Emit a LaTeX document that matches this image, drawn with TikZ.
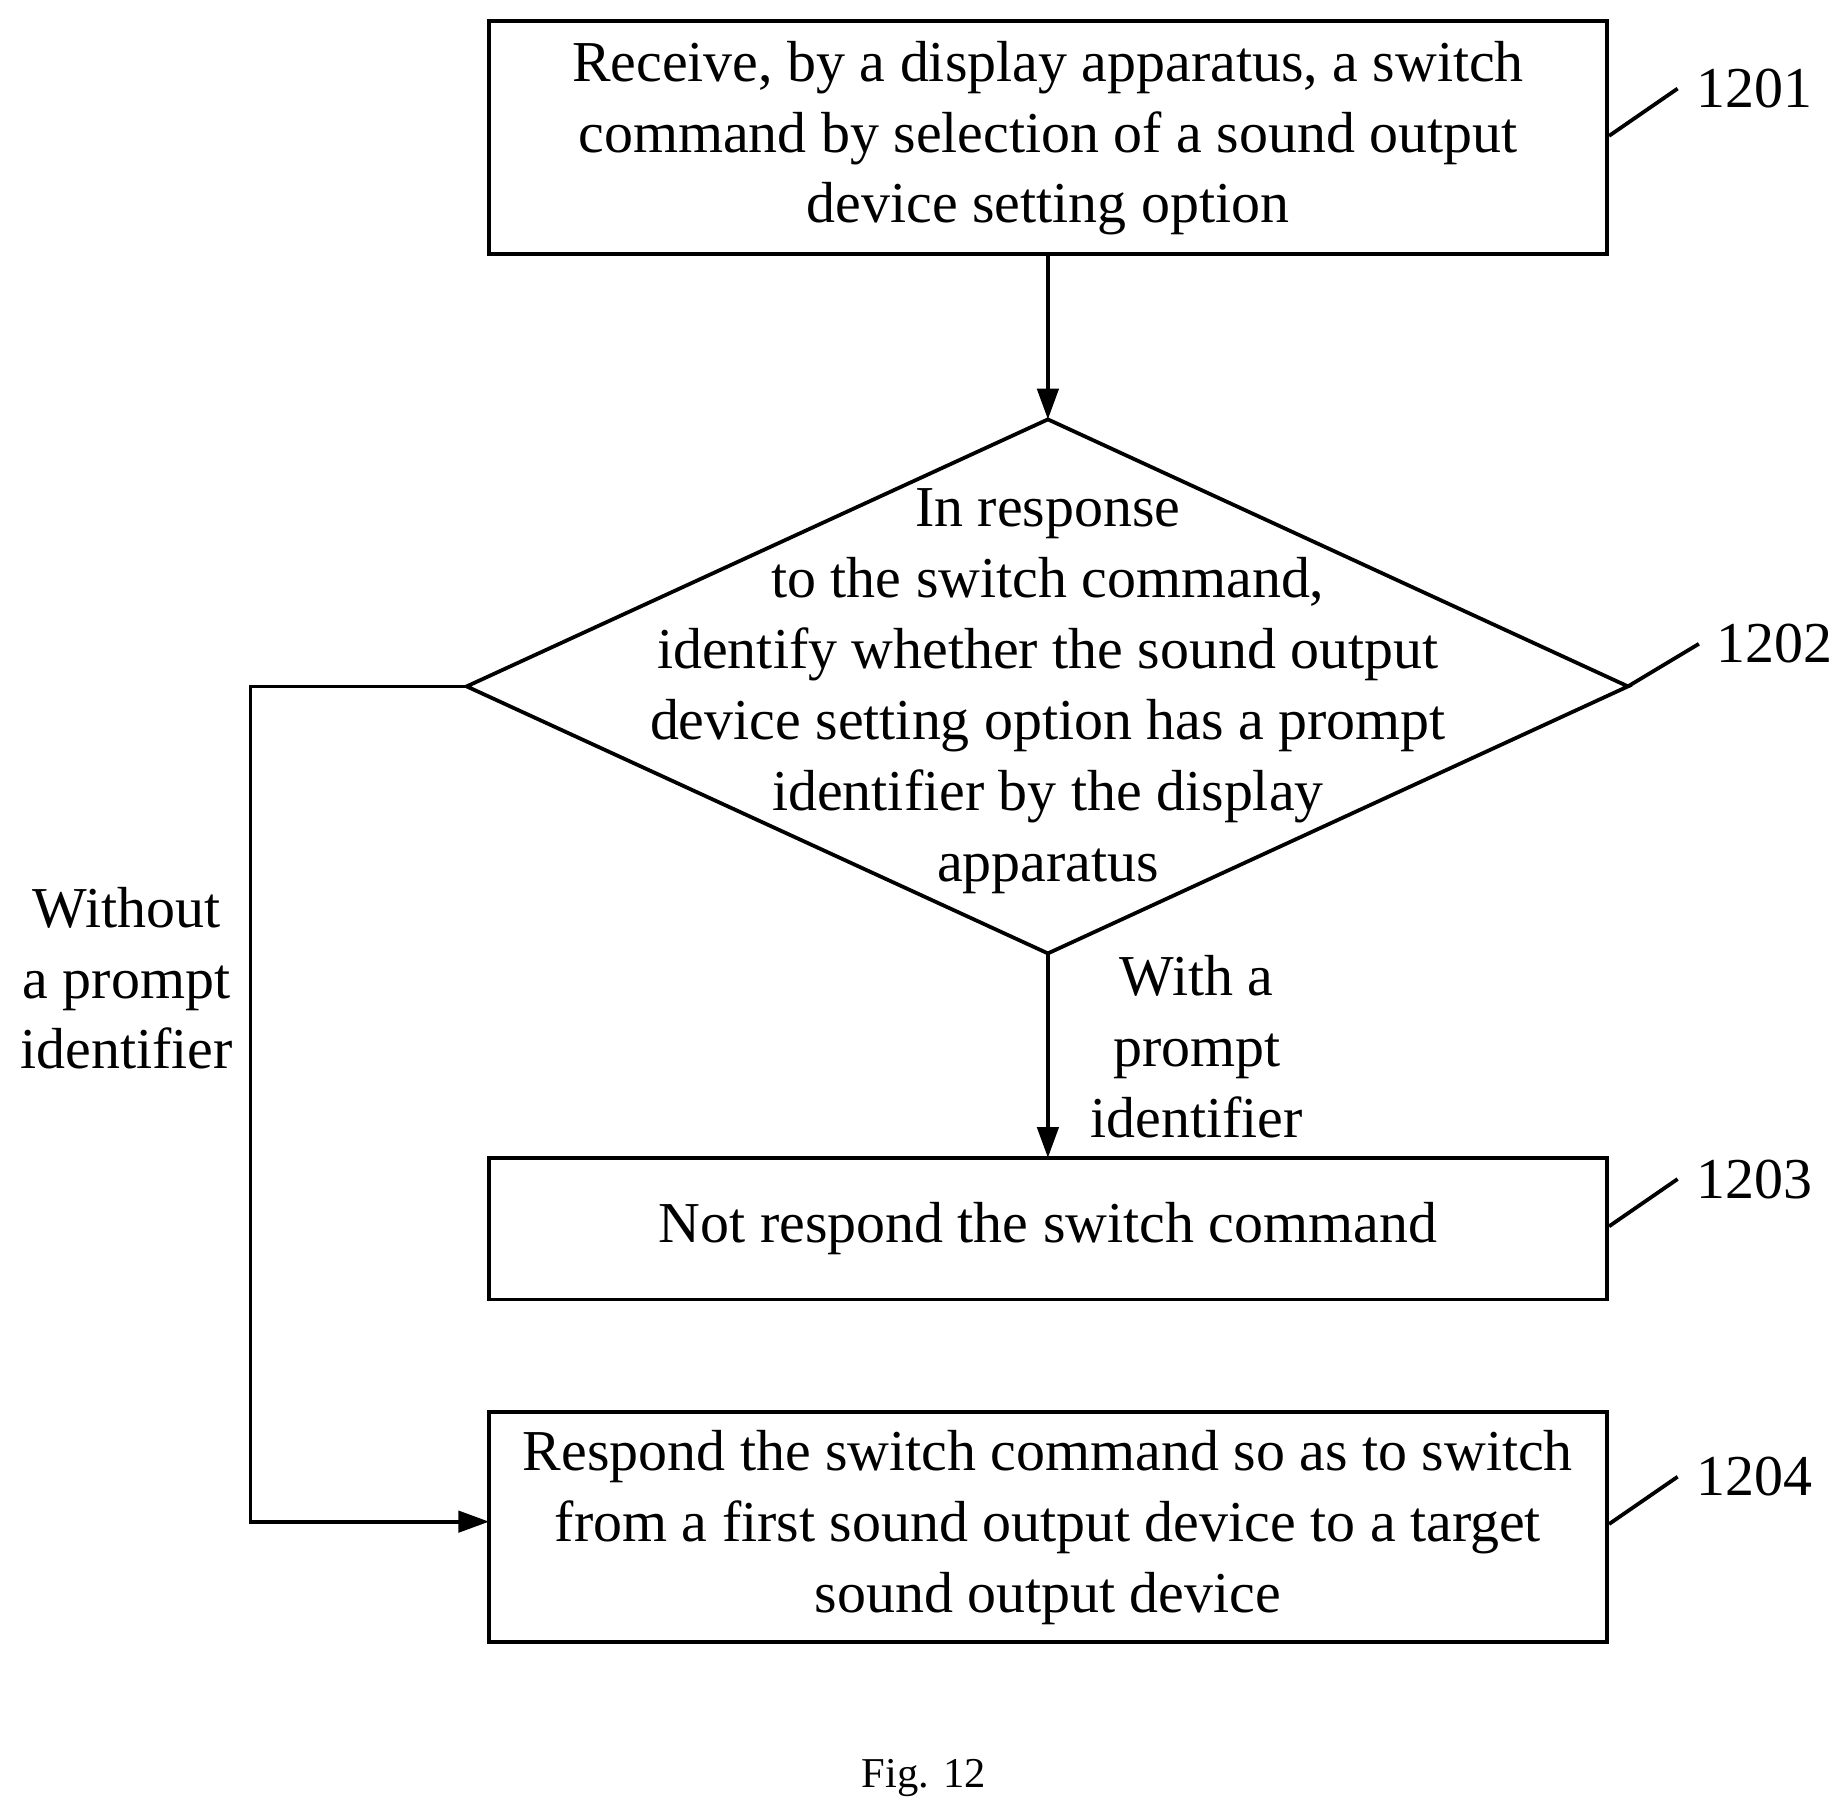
\documentclass[tikz,border=0pt]{standalone}
\usepackage{fontspec}
\setmainfont{Liberation Serif}
\usetikzlibrary{arrows.meta}
\begin{document}
\begin{tikzpicture}[x=0.5pt,y=-0.5pt,
  box/.style={draw,line width=1.6pt},
  txt/.style={align=center,font=\fontsize{24.5}{30}\selectfont},
  lbl/.style={font=\fontsize{24.5}{30}\selectfont},
  arr/.style={line width=1.6pt,-{Triangle[length=13pt,width=9pt]}},
  ln/.style={line width=1.6pt}]
\useasboundingbox (0,0) rectangle (1560,1540);
\fill[white] (0,0) rectangle (1560,1540);
% boxes
\draw[box] (414,18) rectangle (1360,215);
\node[txt] (t1) at (887,117) {Receive, by a display apparatus, a switch\\command by selection of a sound output\\device setting option};
\coordinate (b1) at (887,215);
\coordinate (dt) at (887,355);
\coordinate (dl) at (395,581);
\coordinate (dr) at (1378,581);
\coordinate (db) at (887,807);
\draw[box] (dt) -- (dr) -- (db) -- (dl) -- cycle;
\node[txt] (t2) at (887,585) {In response\\to the switch command,\\identify whether the sound output\\device setting option has a prompt\\identifier by the display\\apparatus};
\draw[box] (414,980) rectangle (1360,1100);
\node[txt] (t3) at (887,1040) {Not respond the switch command};
\coordinate (b3t) at (887,980);
\draw[box] (414,1195) rectangle (1360,1390);
\node[txt] (t4) at (887,1293) {Respond the switch command so as to switch\\from a first sound output device to a target\\sound output device};
\coordinate (b4l) at (414,1288);
% connectors
\draw[arr] (b1) -- (dt);
\draw[arr] (db) -- (b3t);
\draw[arr] (dl) -- (212,581) -- (212,1288) -- (b4l);
\node[txt] (w0) at (107,828) {Without\\a prompt\\identifier};
\node[txt] (w1) at (1013,886) {With a\\prompt\\identifier};
% step numbers
\draw[ln] (1362,115) -- (1420,75); \node[lbl] (n1) at (1485,75) {1201};
\draw[ln] (1378,581) -- (1438,545); \node[lbl] (n2) at (1502,545) {1202};
\draw[ln] (1362,1038) -- (1420,998); \node[lbl] (n3) at (1485,998) {1203};
\draw[ln] (1362,1290) -- (1420,1250); \node[lbl] (n4) at (1485,1250) {1204};
\node[font=\fontsize{18}{22}\selectfont] (fig) at (782,1505) {Fig. 12};
\end{tikzpicture}
\end{document}
